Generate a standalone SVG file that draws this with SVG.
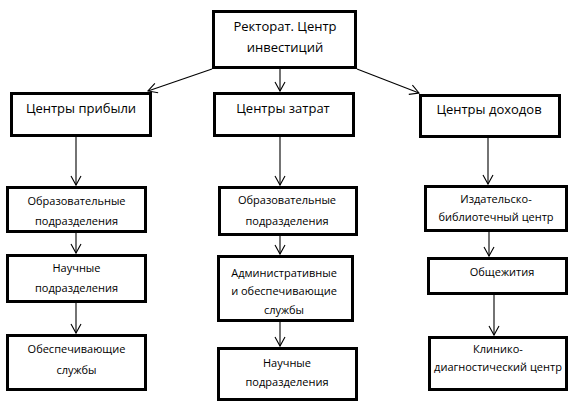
<svg xmlns="http://www.w3.org/2000/svg" width="575" height="407" viewBox="0 0 575 407">
<style>
.box{fill:#fff;stroke:#000;stroke-width:3}
.t{font-family:"Open Sans","Noto Sans",sans-serif;fill:#000;text-anchor:middle}
.h{font-size:13px}
.s{font-size:11px}
.c line{stroke:#000;stroke-width:1.1;marker-end:url(#v)}
</style>
<defs>
<marker id="v" markerUnits="userSpaceOnUse" viewBox="-10 -6 12 12" refX="0" refY="0" markerWidth="12" markerHeight="12" orient="auto">
<path d="M-9,-5 L0,0 L-9,5" fill="none" stroke="#000" stroke-width="1.1"/>
</marker>
</defs>
<rect width="575" height="407" fill="#fff"/>
<g id="connectors" class="c">
<line x1="212" y1="69" x2="148" y2="91"/>
<line x1="280" y1="69" x2="280" y2="91"/>
<line x1="357" y1="69" x2="419" y2="93"/>
<line x1="76" y1="137" x2="76" y2="185"/>
<line x1="76" y1="233" x2="76" y2="253"/>
<line x1="76" y1="303" x2="76" y2="333"/>
<line x1="280" y1="137" x2="280" y2="185"/>
<line x1="280" y1="236" x2="280" y2="254"/>
<line x1="280" y1="322" x2="280" y2="346"/>
<line x1="488" y1="138" x2="488" y2="184"/>
<line x1="489" y1="232" x2="489" y2="256"/>
<line x1="494" y1="295" x2="494" y2="335"/>
</g>
<g id="rectorat"><rect class="box" x="213.5" y="11.5" width="142" height="56"/>
<text class="t h" x="285" y="31">Ректорат. Центр</text><text class="t h" x="285" y="52">инвестиций</text></g>
<g id="profit"><rect class="box" x="11.5" y="93.5" width="139" height="42"/>
<text class="t h" x="81" y="113">Центры прибыли</text></g>
<g id="cost"><rect class="box" x="214.5" y="93.5" width="139" height="42"/>
<text class="t h" x="283" y="113">Центры затрат</text></g>
<g id="income"><rect class="box" x="420.5" y="95.5" width="139" height="41"/>
<text class="t h" x="489" y="114">Центры доходов</text></g>
<g id="l1"><rect class="box" x="7.5" y="187.5" width="138" height="44"/>
<text class="t s" x="76.5" y="205">Образовательные</text><text class="t s" x="76.5" y="225">подразделения</text></g>
<g id="l2"><rect class="box" x="7.5" y="255.5" width="138" height="46"/>
<text class="t s" x="76.5" y="272">Научные</text><text class="t s" x="76.5" y="292">подразделения</text></g>
<g id="l3"><rect class="box" x="7.5" y="335.5" width="138" height="54"/>
<text class="t s" x="76.5" y="353">Обеспечивающие</text><text class="t s" x="76.5" y="374">службы</text></g>
<g id="m1"><rect class="box" x="219.5" y="187.5" width="137" height="47"/>
<text class="t s" x="287" y="204">Образовательные</text><text class="t s" x="287" y="225">подразделения</text></g>
<g id="m2"><rect class="box" x="218.5" y="256.5" width="134" height="64"/>
<text class="t s" x="284" y="277">Административные</text><text class="t s" x="284" y="295">и обеспечивающие</text><text class="t s" x="284" y="314">службы</text></g>
<g id="m3"><rect class="box" x="218.5" y="348.5" width="138" height="51"/>
<text class="t s" x="287" y="367">Научные</text><text class="t s" x="287" y="386">подразделения</text></g>
<g id="r1"><rect class="box" x="425.5" y="186.5" width="141" height="44"/>
<text class="t s" x="496" y="203">Издательско-</text><text class="t s" x="496" y="221">библиотечный центр</text></g>
<g id="r2"><rect class="box" x="428.5" y="258.5" width="138" height="35"/>
<text class="t s" x="502" y="276">Общежития</text></g>
<g id="r3"><rect class="box" x="429.5" y="337.5" width="137" height="52"/>
<text class="t s" x="498" y="353">Клинико-</text><text class="t s" x="498" y="371">диагностический центр</text></g>
</svg>
